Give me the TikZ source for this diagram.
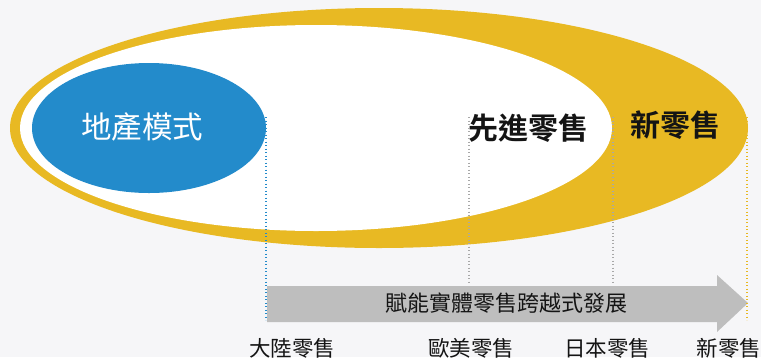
\documentclass[tikz,border=0pt]{standalone}
\usepackage{fontspec}
\newfontfamily\cjk{Noto Sans CJK TC}[BoldFont={Noto Sans CJK TC Bold}]
\usetikzlibrary{shapes.geometric}
\definecolor{bgc}{RGB}{246,246,248}
\definecolor{gold}{RGB}{232,185,35}
\definecolor{skyb}{RGB}{35,139,203}
\definecolor{arrowgray}{RGB}{190,190,190}
\definecolor{dotgray}{RGB}{168,168,168}
\definecolor{ink}{RGB}{20,20,20}
\tikzset{
  oval/.style={ellipse, inner sep=0pt, draw=none},
  bigtxt/.style={font=\cjk\bfseries\fontsize{30}{32}\selectfont, text=ink, inner sep=0pt},
  lbl/.style={font=\cjk\fontsize{21.5}{23}\selectfont, text=ink, inner sep=0pt},
  dotline/.style={line width=1.3pt, dash pattern=on 1.3pt off 2.2pt}
}
\begin{document}
\begin{tikzpicture}[x=1pt,y=-1pt]
\fill[bgc] (0,0) rectangle (761,357);
\useasboundingbox (0,0) rectangle (761,357);
\node[oval, fill=gold, minimum width=738pt, minimum height=240pt] (outer) at (379,128) {};
\node[oval, fill=white, minimum width=592pt, minimum height=206pt] (inner) at (316,128) {};
\node[oval, fill=skyb, minimum width=234pt, minimum height=130pt] (land) at (149,128) {};
\node[font=\cjk\fontsize{30.5}{32}\selectfont, text=white, inner sep=0pt] (landtxt) at (142,127) {地產模式};
\node[bigtxt] (adv) at (528,128) {先進零售};
\node[bigtxt] (newr) at (675,125) {新零售};
% arrow
\fill[arrowgray] (267,286) -- (717,286) -- (717,275) -- (748,303) -- (717,332) -- (717,322) -- (267,322) -- cycle;
\node[font=\cjk\fontsize{22}{24}\selectfont, text=ink, inner sep=0pt] (arrtxt) at (506,303) {賦能實體零售跨越式發展};
% dotted guides
\coordinate (b1) at (266,117); \coordinate (b2) at (266,320);
\coordinate (g1) at (469,117); \coordinate (g2) at (469,284);
\coordinate (h1) at (613,117); \coordinate (h2) at (613,284);
\coordinate (y1) at (747,117); \coordinate (y2) at (747,320);
\draw[dotline, skyb] (b1) -- (b2);
\draw[dotline, dotgray] (g1) -- (g2);
\draw[dotline, dotgray] (h1) -- (h2);
\draw[dotline, gold] (y1) -- (y2);
% bottom labels
\node[lbl] (l1) at (292,348) {大陸零售};
\node[lbl] (l2) at (471,348) {歐美零售};
\node[lbl] (l3) at (607,348) {日本零售};
\node[lbl] (l4) at (729,348) {新零售};
\end{tikzpicture}
\end{document}
